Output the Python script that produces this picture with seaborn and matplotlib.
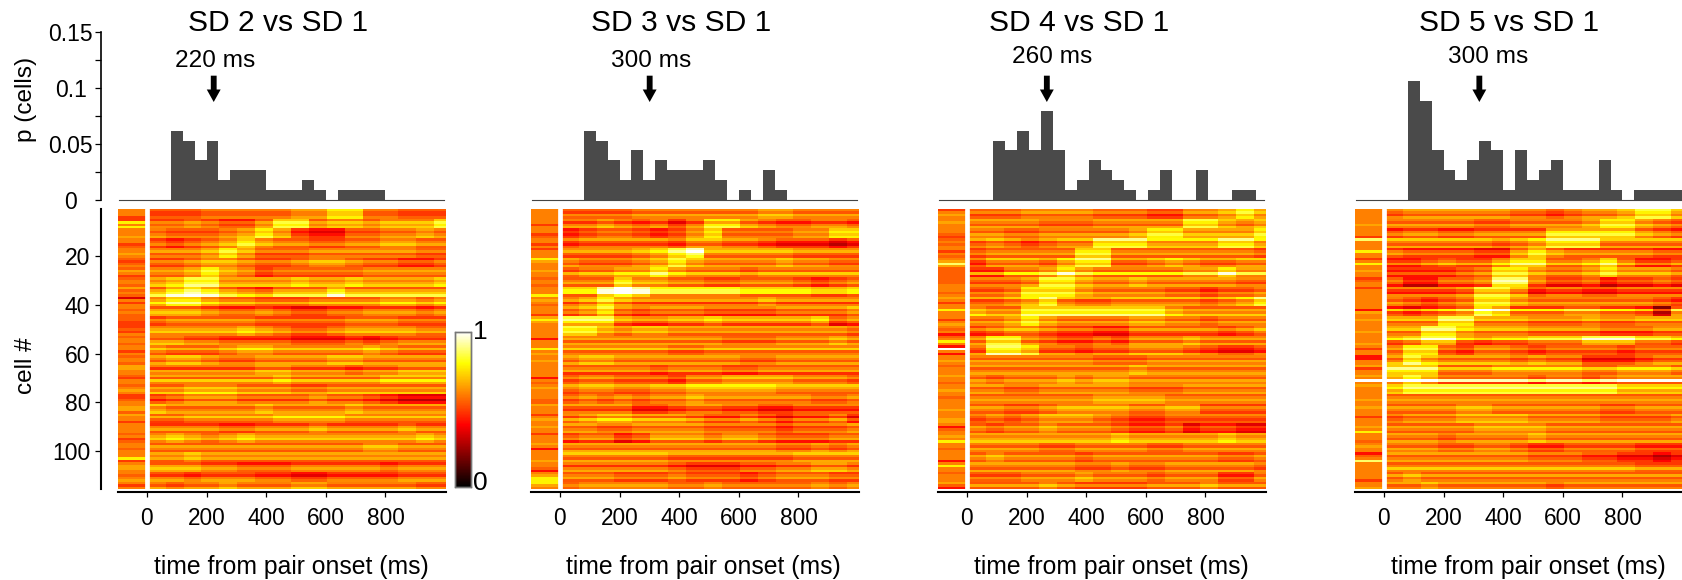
import numpy as np
import matplotlib
matplotlib.use("Agg")
import matplotlib.pyplot as plt
from matplotlib.colors import LinearSegmentedColormap
import seaborn as sns

W, H = 1682, 580

TITLES = ["SD 2 vs SD 1", "SD 3 vs SD 1", "SD 4 vs SD 1", "SD 5 vs SD 1"]
PEAK_LABELS = ["220 ms", "300 ms", "260 ms", "300 ms"]
ARROW_TIMES = [224, 301, 268, 320]
XTICKS = [0, 200, 400, 600, 800]
N_CELLS = 113

# histogram counts per 40 ms bin (bar height = count / N_CELLS)
SD2_COUNTS = [7, 6, 4, 6, 2, 3, 3, 3, 1, 1, 1, 2, 1, 0, 1, 1, 1, 1]
SD3_COUNTS = [7, 6, 4, 2, 5, 2, 4, 3, 3, 3, 4, 2, 0, 1, 0, 3, 1]
SD4_COUNTS = [6, 5, 7, 5, 9, 5, 1, 2, 4, 3, 2, 1, 0, 1, 3, 0, 0, 3, 0, 0, 1, 1]
SD5_COUNTS = [12, 10, 5, 3, 2, 4, 6, 5, 1, 5, 2, 3, 4, 1, 1, 1, 4, 1, 0, 1, 1, 1, 1]
BIN_STARTS = [80, 80, 88, 80]

# colour value of each heat level 0-10
LEVEL_VALUES = [0, 0.1, 0.34, 0.42, 0.49, 0.55, 0.6, 0.66, 0.78, 0.88, 1.0]

# heat levels: 29 blocks of 4 cells x 17 blocks of 60 ms
SD2_GRID = [
    [5, 5, 5, 6, 6, 6, 6, 6, 7, 7, 8, 8, 6, 6, 5, 5, 5],
    [5, 5, 6, 5, 4, 4, 6, 8, 8, 6, 7, 7, 6, 7, 7, 7, 8],
    [6, 5, 5, 5, 6, 7, 8, 7, 4, 3, 3, 5, 5, 6, 6, 7, 6],
    [5, 4, 5, 6, 7, 8, 7, 6, 6, 5, 5, 6, 6, 7, 7, 6, 6],
    [6, 6, 6, 7, 8, 7, 5, 5, 5, 6, 6, 6, 6, 6, 6, 5, 5],
    [5, 5, 6, 7, 7, 6, 5, 5, 6, 7, 7, 6, 5, 5, 4, 4, 5],
    [6, 6, 7, 8, 7, 6, 4, 5, 5, 5, 5, 5, 6, 6, 6, 6, 6],
    [6, 7, 8, 8, 6, 6, 6, 6, 7, 6, 6, 7, 6, 6, 6, 6, 7],
    [7, 8, 9, 8, 7, 6, 5, 7, 7, 7, 8, 7, 7, 7, 7, 7, 7],
    [7, 8, 8, 7, 6, 6, 5, 5, 5, 6, 6, 6, 6, 7, 7, 6, 7],
    [7, 7, 7, 6, 5, 5, 6, 5, 4, 4, 5, 5, 6, 6, 6, 5, 6],
    [5, 6, 6, 6, 6, 6, 5, 5, 5, 5, 5, 6, 6, 6, 5, 5, 5],
    [6, 6, 6, 6, 6, 7, 6, 5, 4, 4, 5, 6, 6, 6, 6, 5, 5],
    [7, 7, 6, 6, 5, 5, 5, 5, 4, 4, 4, 5, 4, 5, 6, 6, 6],
    [6, 5, 5, 5, 6, 7, 7, 6, 6, 6, 6, 6, 7, 6, 5, 5, 5],
    [6, 7, 7, 6, 5, 5, 6, 6, 6, 6, 7, 7, 6, 6, 6, 6, 6],
    [6, 6, 6, 6, 6, 6, 7, 7, 6, 6, 6, 5, 6, 6, 7, 7, 7],
    [6, 6, 6, 6, 6, 6, 6, 7, 6, 6, 6, 6, 6, 7, 7, 7, 7],
    [6, 6, 7, 7, 7, 6, 6, 6, 5, 5, 6, 6, 6, 6, 6, 6, 6],
    [5, 6, 7, 7, 7, 6, 6, 6, 6, 7, 6, 6, 5, 4, 3, 3, 3],
    [7, 6, 6, 6, 6, 6, 7, 6, 6, 6, 6, 7, 6, 6, 6, 6, 6],
    [5, 5, 6, 6, 6, 6, 6, 7, 7, 7, 7, 6, 6, 6, 6, 6, 6],
    [6, 6, 6, 6, 5, 5, 6, 6, 6, 7, 6, 6, 6, 6, 7, 6, 6],
    [6, 7, 6, 5, 6, 7, 6, 6, 6, 6, 6, 6, 6, 6, 6, 7, 6],
    [6, 6, 6, 6, 6, 6, 6, 6, 6, 6, 6, 6, 7, 7, 6, 6, 6],
    [6, 6, 7, 6, 6, 6, 6, 6, 6, 6, 6, 6, 6, 6, 6, 6, 6],
    [7, 7, 7, 6, 6, 5, 5, 5, 6, 6, 6, 6, 6, 5, 6, 6, 6],
    [6, 6, 5, 6, 6, 6, 5, 5, 4, 4, 5, 5, 5, 5, 6, 6, 6],
    [6, 5, 6, 6, 7, 6, 6, 6, 7, 7, 6, 6, 6, 6, 6, 5, 5],
]
SD3_GRID = [
    [5, 5, 5, 5, 6, 6, 6, 6, 6, 6, 6, 7, 7, 6, 6, 6, 6],
    [6, 6, 7, 6, 5, 6, 4, 6, 8, 8, 7, 6, 5, 5, 6, 6, 5],
    [4, 5, 6, 6, 5, 4, 5, 7, 8, 6, 6, 6, 6, 7, 7, 8, 8],
    [5, 6, 6, 6, 6, 6, 5, 7, 7, 6, 6, 5, 4, 4, 4, 3, 4],
    [5, 5, 5, 5, 6, 7, 8, 9, 6, 6, 6, 6, 6, 5, 5, 5, 5],
    [6, 5, 5, 5, 6, 7, 8, 7, 6, 6, 6, 6, 7, 6, 6, 5, 5],
    [5, 6, 6, 7, 7, 8, 7, 6, 6, 6, 5, 6, 6, 6, 6, 6, 6],
    [6, 6, 6, 8, 7, 7, 6, 6, 5, 5, 6, 6, 6, 5, 4, 5, 6],
    [6, 6, 8, 9, 8, 7, 7, 7, 7, 7, 6, 6, 6, 6, 5, 5, 6],
    [6, 7, 8, 7, 6, 6, 6, 6, 6, 6, 6, 7, 6, 6, 6, 6, 6],
    [6, 7, 8, 6, 5, 6, 6, 6, 5, 5, 5, 5, 6, 6, 6, 6, 7],
    [8, 8, 8, 6, 5, 5, 6, 6, 7, 6, 6, 6, 6, 6, 7, 4, 5],
    [8, 8, 7, 6, 7, 7, 6, 6, 6, 6, 6, 6, 6, 6, 6, 6, 5],
    [6, 6, 6, 6, 6, 6, 6, 6, 6, 5, 5, 5, 6, 6, 6, 7, 6],
    [6, 6, 6, 6, 6, 6, 5, 5, 6, 6, 6, 6, 6, 6, 6, 6, 6],
    [6, 7, 7, 6, 6, 6, 6, 6, 6, 6, 5, 5, 6, 6, 6, 6, 6],
    [6, 6, 6, 6, 6, 5, 6, 6, 6, 5, 5, 6, 6, 6, 6, 6, 6],
    [5, 6, 6, 5, 5, 5, 4, 6, 6, 7, 7, 7, 7, 6, 6, 6, 5],
    [5, 6, 6, 5, 5, 6, 6, 7, 7, 7, 7, 7, 6, 6, 6, 6, 6],
    [5, 6, 5, 6, 5, 6, 6, 7, 6, 6, 6, 6, 6, 6, 5, 5, 6],
    [6, 6, 6, 6, 4, 4, 5, 6, 6, 5, 5, 4, 4, 5, 5, 5, 5],
    [5, 6, 7, 7, 6, 6, 6, 5, 4, 4, 5, 4, 3, 4, 4, 5, 3],
    [6, 6, 5, 5, 6, 6, 6, 6, 5, 5, 5, 5, 4, 5, 5, 5, 6],
    [5, 6, 6, 4, 5, 7, 7, 7, 6, 7, 7, 6, 5, 5, 5, 6, 6],
    [6, 6, 6, 6, 6, 6, 6, 6, 6, 6, 6, 6, 5, 5, 6, 5, 6],
    [6, 6, 6, 6, 6, 6, 5, 5, 5, 5, 5, 5, 5, 6, 6, 6, 6],
    [6, 6, 6, 6, 6, 6, 5, 4, 4, 4, 5, 5, 6, 6, 7, 7, 6],
    [6, 6, 6, 5, 5, 5, 6, 5, 5, 5, 4, 5, 6, 6, 6, 5, 5],
    [5, 6, 6, 6, 6, 6, 5, 5, 6, 5, 5, 5, 5, 5, 6, 5, 6],
]
SD4_GRID = [
    [5, 5, 5, 6, 6, 6, 6, 5, 5, 5, 4, 4, 6, 6, 7, 8, 7],
    [6, 6, 6, 6, 5, 5, 5, 6, 6, 6, 6, 6, 8, 8, 7, 6, 7],
    [6, 6, 5, 5, 6, 6, 6, 6, 6, 7, 8, 8, 7, 7, 7, 7, 8],
    [5, 6, 5, 4, 5, 6, 6, 8, 8, 8, 7, 7, 7, 7, 8, 8, 7],
    [5, 6, 6, 6, 6, 6, 8, 8, 6, 6, 6, 6, 6, 6, 6, 6, 5],
    [4, 6, 6, 6, 5, 7, 8, 8, 5, 5, 6, 7, 6, 5, 5, 6, 6],
    [4, 4, 6, 6, 7, 8, 7, 6, 6, 6, 6, 6, 7, 7, 8, 7, 7],
    [5, 5, 5, 6, 8, 8, 7, 6, 6, 7, 6, 6, 6, 6, 6, 5, 5],
    [5, 5, 6, 8, 8, 8, 7, 6, 6, 6, 6, 5, 5, 4, 5, 5, 6],
    [5, 5, 6, 7, 8, 6, 5, 5, 6, 6, 6, 6, 6, 5, 6, 7, 8],
    [7, 6, 6, 8, 8, 8, 8, 8, 8, 8, 8, 7, 6, 6, 6, 6, 6],
    [6, 6, 7, 8, 7, 6, 6, 6, 6, 7, 7, 6, 6, 5, 6, 6, 6],
    [5, 6, 7, 7, 6, 5, 5, 4, 4, 6, 6, 6, 6, 6, 5, 6, 7],
    [6, 8, 8, 6, 5, 4, 4, 5, 4, 6, 6, 6, 7, 6, 6, 6, 6],
    [6, 9, 9, 8, 6, 6, 5, 6, 6, 7, 7, 7, 6, 5, 4, 4, 5],
    [6, 6, 6, 6, 6, 6, 6, 5, 5, 5, 6, 6, 6, 6, 6, 6, 6],
    [6, 6, 6, 6, 6, 6, 6, 6, 6, 7, 6, 6, 6, 6, 6, 6, 6],
    [6, 5, 6, 6, 6, 7, 6, 7, 7, 6, 6, 6, 6, 6, 6, 6, 6],
    [6, 6, 5, 5, 6, 6, 6, 6, 6, 5, 5, 5, 6, 6, 6, 6, 6],
    [6, 6, 6, 6, 6, 6, 6, 7, 7, 7, 7, 6, 6, 6, 6, 6, 6],
    [6, 6, 5, 5, 6, 7, 7, 7, 7, 6, 6, 7, 7, 5, 5, 5, 5],
    [5, 6, 5, 6, 7, 7, 7, 6, 5, 4, 4, 5, 5, 5, 5, 5, 5],
    [6, 5, 6, 6, 7, 6, 6, 6, 5, 4, 4, 5, 3, 4, 4, 3, 3],
    [6, 6, 6, 6, 6, 6, 6, 6, 7, 6, 6, 6, 6, 6, 7, 6, 6],
    [6, 6, 6, 6, 5, 5, 6, 6, 6, 6, 5, 5, 6, 6, 6, 6, 6],
    [6, 7, 6, 6, 6, 6, 5, 6, 6, 6, 6, 6, 6, 6, 5, 5, 6],
    [6, 6, 6, 6, 6, 6, 5, 5, 6, 5, 5, 6, 6, 6, 6, 6, 5],
    [5, 5, 5, 6, 6, 6, 7, 6, 6, 6, 5, 6, 6, 6, 4, 4, 6],
    [6, 6, 6, 6, 7, 6, 5, 5, 5, 5, 6, 6, 6, 7, 6, 6, 6],
]
SD5_GRID = [
    [5, 6, 6, 6, 6, 6, 6, 5, 5, 4, 5, 6, 6, 7, 8, 8, 7],
    [6, 6, 6, 6, 6, 5, 5, 6, 6, 6, 6, 7, 8, 8, 7, 6, 5],
    [5, 6, 6, 5, 5, 6, 6, 6, 6, 8, 8, 8, 8, 8, 7, 6, 5],
    [6, 6, 6, 6, 6, 6, 5, 6, 7, 8, 8, 8, 6, 6, 6, 6, 6],
    [6, 5, 5, 5, 5, 4, 4, 7, 8, 7, 6, 6, 6, 6, 6, 5, 5],
    [4, 4, 5, 6, 5, 5, 7, 8, 8, 6, 6, 7, 8, 6, 4, 4, 5],
    [4, 4, 4, 4, 5, 6, 8, 8, 7, 6, 6, 7, 8, 7, 7, 7, 6],
    [5, 3, 3, 5, 5, 6, 9, 9, 6, 4, 4, 5, 3, 4, 4, 5, 4],
    [5, 5, 5, 5, 6, 8, 8, 7, 4, 5, 5, 4, 4, 5, 5, 5, 5],
    [6, 5, 4, 5, 6, 8, 8, 7, 6, 6, 6, 6, 6, 6, 6, 5, 4],
    [5, 4, 5, 6, 7, 9, 8, 6, 6, 6, 7, 7, 6, 6, 5, 2, 7],
    [6, 6, 6, 8, 8, 6, 6, 6, 5, 5, 5, 6, 5, 5, 6, 6, 6],
    [6, 6, 8, 8, 7, 6, 6, 6, 5, 5, 5, 5, 4, 4, 4, 5, 5],
    [6, 7, 8, 8, 6, 5, 6, 6, 7, 7, 7, 8, 8, 8, 7, 7, 6],
    [6, 8, 8, 5, 4, 6, 6, 5, 4, 5, 5, 5, 5, 4, 5, 5, 5],
    [6, 8, 7, 6, 6, 6, 6, 5, 6, 5, 5, 3, 3, 3, 4, 5, 5],
    [8, 8, 8, 6, 6, 6, 7, 7, 7, 7, 7, 6, 6, 7, 7, 7, 6],
    [7, 8, 7, 5, 5, 5, 5, 5, 4, 5, 5, 4, 5, 6, 6, 6, 6],
    [7, 8, 8, 8, 8, 8, 8, 8, 8, 8, 8, 8, 8, 7, 7, 7, 7],
    [6, 6, 6, 6, 6, 6, 6, 6, 6, 6, 6, 6, 6, 6, 6, 6, 6],
    [6, 6, 6, 6, 7, 7, 6, 6, 6, 6, 6, 6, 5, 5, 6, 6, 6],
    [5, 6, 6, 6, 7, 7, 7, 7, 6, 6, 6, 6, 5, 5, 5, 5, 6],
    [6, 6, 6, 6, 6, 7, 7, 7, 7, 6, 6, 6, 6, 6, 6, 6, 6],
    [6, 6, 6, 5, 6, 6, 6, 6, 7, 6, 6, 6, 6, 6, 6, 6, 6],
    [6, 6, 6, 5, 5, 6, 6, 5, 4, 4, 5, 5, 5, 5, 4, 4, 4],
    [6, 6, 6, 6, 6, 6, 6, 6, 5, 5, 5, 4, 4, 3, 3, 2, 3],
    [6, 6, 6, 6, 6, 6, 6, 6, 6, 6, 6, 6, 6, 6, 5, 5, 5],
    [6, 7, 6, 6, 6, 6, 6, 6, 6, 6, 6, 6, 6, 6, 6, 6, 6],
    [6, 6, 7, 6, 6, 6, 6, 6, 6, 5, 6, 6, 6, 6, 6, 6, 6],
]

# pre-stimulus strip, one level per cell
SD2_PRE = [6, 6, 6, 4, 4, 8, 6, 8, 6, 6, 6, 7, 6, 6, 4, 5, 6, 6, 7, 6,
           5, 4, 5, 6, 5, 7, 6, 4, 5, 6, 6, 5, 7, 5, 6, 5, 2, 6, 4, 6,
           6, 5, 6, 5, 5, 5, 4, 4, 4, 5, 4, 6, 5, 6, 6, 5, 6, 6, 4, 6,
           5, 6, 6, 5, 7, 7, 6, 6, 5, 4, 6, 6, 5, 6, 7, 6, 4, 4, 5, 6,
           6, 7, 7, 5, 7, 6, 6, 4, 6, 6, 6, 6, 5, 6, 4, 5, 6, 6, 5, 6,
           6, 6, 8, 4, 6, 7, 7, 6, 6, 5, 6, 7, 6, 4, 6]
SD3_PRE = [6, 6, 6, 6, 6, 6, 4, 6, 6, 6, 4, 5, 6, 6, 4, 6, 4, 6, 6, 6,
           8, 7, 6, 6, 6, 7, 6, 6, 5, 6, 6, 5, 6, 6, 6, 8, 6, 7, 6, 5,
           6, 6, 6, 4, 7, 8, 7, 6, 6, 6, 6, 6, 6, 3, 6, 6, 6, 8, 6, 7,
           6, 6, 7, 6, 6, 6, 6, 6, 6, 3, 6, 5, 6, 7, 6, 6, 6, 6, 5, 5,
           7, 6, 6, 6, 4, 6, 7, 6, 6, 7, 6, 6, 4, 6, 6, 6, 7, 6, 3, 6,
           6, 6, 6, 7, 6, 6, 5, 3, 6, 7, 8, 8, 8, 7, 6]
SD4_PRE = [4, 6, 7, 6, 6, 7, 6, 6, 6, 6, 5, 4, 5, 6, 5, 6, 6, 4, 6, 5,
           6, 7, 9, 7, 5, 5, 5, 5, 5, 5, 5, 6, 6, 6, 5, 6, 7, 6, 4, 6,
           6, 8, 6, 6, 6, 4, 6, 7, 6, 5, 6, 3, 5, 6, 8, 6, 3, 10, 6, 3,
           6, 6, 7, 6, 5, 6, 6, 6, 7, 6, 6, 5, 6, 6, 7, 6, 6, 5, 6, 6,
           6, 6, 7, 6, 6, 6, 7, 7, 6, 3, 5, 6, 6, 7, 6, 8, 6, 6, 5, 6,
           6, 6, 6, 3, 6, 8, 6, 6, 5, 6, 6, 6, 7, 5, 3]
SD5_PRE = [6, 6, 6, 6, 6, 6, 7, 6, 6, 6, 6, 4, 9, 6, 6, 6, 6, 8, 6, 6,
           4, 6, 8, 6, 6, 7, 6, 6, 4, 5, 6, 6, 4, 6, 6, 6, 6, 6, 6, 6,
           6, 3, 7, 6, 6, 7, 6, 6, 6, 6, 7, 6, 6, 6, 6, 7, 6, 4, 6, 6,
           3, 3, 6, 6, 7, 4, 6, 6, 7, 6, 10, 6, 7, 6, 6, 6, 6, 6, 7, 6,
           6, 7, 6, 6, 6, 4, 6, 6, 6, 7, 6, 8, 6, 6, 6, 5, 6, 7, 6, 6,
           3, 5, 6, 9, 6, 6, 6, 6, 6, 6, 6, 4, 6, 6, 7]

# bright / dark row streaks after onset, one value per cell
SD2_STREAK = [0, -1, -1, 0, -1, 1, 0, 1, 0, -1, 0, 1, -1, 0, 1, -1, 0, 1, -1, 0,
              -1, 1, 0, -1, 0, 1, 0, -1, 1, 0, 1, 2, -2, 0, 1, 3, -1, 0, 2, 0,
              -2, 0, 1, 0, -1, 1, 0, -1, 0, 1, 2, 0, -1, -2, 0, 1, 0, 2, 0, -1,
              1, 0, -1, 1, 0, -2, 1, 0, 1, -1, 2, 0, -1, 1, 0, 2, -1, 0, -2, 0,
              1, -1, 0, 1, 0, 2, 0, -1, -2, 0, 1, -1, 0, 1, 2, 0, -1, 1, 0, -1,
              1, 0, 1, -1, -2, 0, 1, 0, -1, -2, 0, 1, 0, -1, 1]
SD3_STREAK = [0, -1, 1, 0, 0, -2, 0, 1, -1, 0, -1, 0, 1, -1, -2, 0, 1, 2, 0, -1,
              1, 0, -1, 1, 0, -1, 2, 0, -1, 0, 1, -1, 2, 3, 3, -1, 0, 1, -2, 0,
              1, -1, 0, -2, 1, 2, 0, -2, 1, 0, 1, -1, 0, 1, -1, 1, 0, 2, -1, 0,
              1, 0, -1, 1, -1, 0, 1, -2, 0, 1, -1, 0, 2, 1, 0, -1, 0, 1, -1, 0,
              1, -1, -2, 0, 1, -1, 2, 0, 1, -1, 0, 1, -1, 0, 1, -2, 1, 0, -1, 1,
              2, 0, -1, 1, 0, -2, 0, 1, -1, 0, 1, -1, 0, 1, 0]
SD4_STREAK = [0, 1, -1, 0, 1, 0, -1, 1, 0, -1, 1, 0, 2, -1, 0, 1, -1, 0, 1, -1,
              2, 0, -1, 1, 0, -1, 3, -1, 1, 0, -1, 1, 0, -1, 1, 0, 2, -1, 0, 1,
              -1, 1, 0, 2, 0, -1, 1, 0, -1, 1, -1, -2, 0, 1, -1, 1, 0, -1, -2, 1,
              0, -1, 1, 0, 1, -1, 0, 1, 0, -1, 1, 0, 1, -1, 0, 1, -1, 0, 1, 0,
              -1, 1, 0, -1, 1, 0, -1, 0, -1, 1, 0, -1, 1, 0, 1, 2, 0, -1, 1, 0,
              -1, 1, 0, -1, 1, 0, -1, 1, 0, -1, 1, 0, -1, 1, -1]
SD5_STREAK = [1, 0, -1, 1, 0, -1, 1, 0, -2, 0, 1, -1, 2, 0, -1, 1, -2, 0, 1, -1,
              -1, 0, 2, -1, 0, -1, 1, -1, 0, 1, 0, -2, 1, -1, -2, 1, 0, -1, 1, 0,
              -2, 3, -1, 0, 1, 2, -1, 0, 1, 2, -1, 0, 1, 3, -1, -2, 0, 1, -1, 0,
              1, -1, 0, 2, -1, 2, 0, -1, 1, 0, 6, -1, 1, 2, 0, 1, -1, 0, 1, 0,
              -1, 1, 0, -1, 1, -1, 0, 1, -1, 1, 0, -1, 1, 0, -1, 1, 0, -1, 1, 0,
              1, -1, 0, 1, -1, 0, 2, 0, -1, 1, -1, 0, 1, -1, 0]

COUNTS = [SD2_COUNTS, SD3_COUNTS, SD4_COUNTS, SD5_COUNTS]
GRIDS = [SD2_GRID, SD3_GRID, SD4_GRID, SD5_GRID]
PRES = [SD2_PRE, SD3_PRE, SD4_PRE, SD5_PRE]
STREAKS = [SD2_STREAK, SD3_STREAK, SD4_STREAK, SD5_STREAK]

sns.set_theme(style="white")
plt.rcParams["font.family"] = ["Liberation Sans", "DejaVu Sans"]
plt.rcParams["text.color"] = "black"
plt.rcParams["axes.labelcolor"] = "black"
plt.rcParams["xtick.color"] = "black"
plt.rcParams["ytick.color"] = "black"

heat = LinearSegmentedColormap.from_list(
    "heat", [(0, "#000000"), (0.4, "#ff0000"), (0.8, "#ffff00"), (1, "#ffffff")])

T0, T1 = -97, 1003
COL_MS = 20


def px_axes(x0, y0, x1, y1):
    return fig.add_axes([x0 / W, 1 - y1 / H, (x1 - x0) / W, (y1 - y0) / H])


def to_col(t):
    return (np.asarray(t) - T0) / COL_MS


def build_matrix(grid, pre, streak):
    values = np.array(LEVEL_VALUES)
    post = np.repeat(np.repeat(values[np.array(grid)], 4, axis=0)[:115], [3] * 16 + [2], axis=1)
    post = post + np.array(streak)[:, None] * 0.065
    strip = np.repeat(values[np.array(pre)][:, None], 5, axis=1)
    return np.clip(np.hstack([strip, post]), 0, 1)


fig = plt.figure(figsize=(W / 100, H / 100), dpi=100)

HEAT_X = [118, 531, 938, 1355]
TITLE_X = [278, 681, 1079, 1509]
PEAK_X = [215, 651, 1052, 1488]
PEAK_Y = [61, 61, 57, 57]
XLABEL_X = [291, 703, 1111, 1528]

cax = px_axes(455, 332, 470.7, 486.7)

for i in range(4):
    x0 = HEAT_X[i]

    # histogram
    ax = px_axes(x0, 32, x0 + 328, 200)
    lefts = BIN_STARTS[i] + 40 * np.arange(len(COUNTS[i]))
    sns.barplot(x=lefts + 20, y=np.array(COUNTS[i]) / N_CELLS, native_scale=True, width=1,
                color="#4a4a4a", saturation=1, linewidth=0, ax=ax)
    ax.set_xlim(T0, T0 + 1100)
    ax.set_ylim(0, 0.15)
    ax.set_xlabel("")
    ax.set_ylabel("")
    ax.set_xticks([])
    sns.despine(ax=ax, left=i > 0)
    ax.spines["bottom"].set_color("#444444")
    ax.spines["bottom"].set_linewidth(0.8)
    ax.spines["bottom"].set_bounds(T0 + 4, T0 + 1092)
    if i == 0:
        ax.spines["left"].set_position(("outward", 17.5 * 0.72))
        ax.spines["left"].set_linewidth(1.2)
        ax.spines["left"].set_color("black")
        ax.set_yticks([0, 0.05, 0.1, 0.15])
        ax.set_yticks([0.025, 0.075, 0.125], minor=True)
        ax.set_yticklabels(["0", "0.05", "0.1", "0.15"], fontsize=16.5, ha="center")
        ax.tick_params(axis="y", which="both", left=True, length=4.3, width=0.9, pad=17)
    else:
        ax.set_yticks([])
    ax.annotate("", xy=(ARROW_TIMES[i], 0.0875), xytext=(ARROW_TIMES[i], 0.111),
                arrowprops=dict(facecolor="black", edgecolor="none", width=4.2,
                                headwidth=10, headlength=9, shrink=0))
    fig.text(TITLE_X[i] / W, 1 - 23 / H, TITLES[i], fontsize=21.6, ha="center", va="center")
    fig.text(PEAK_X[i] / W, 1 - PEAK_Y[i] / H, PEAK_LABELS[i], fontsize=17.6, ha="center", va="center")

    # heat map
    ax2 = px_axes(x0, 209, x0 + 328, 489)
    sns.heatmap(build_matrix(GRIDS[i], PRES[i], STREAKS[i]), vmin=0, vmax=1, cmap=heat,
                cbar=i == 0, cbar_ax=cax if i == 0 else None, ax=ax2,
                xticklabels=False, yticklabels=False, rasterized=True)
    ax2.axvline(to_col(1), color="white", lw=3.4)
    sns.despine(ax=ax2, left=True)
    ax2.spines["bottom"].set_visible(True)
    ax2.spines["bottom"].set_position(("outward", 2.5))
    ax2.spines["bottom"].set_linewidth(1.5)
    ax2.spines["bottom"].set_color("black")
    ax2.set_xticks(to_col(XTICKS))
    ax2.set_xticklabels(XTICKS, fontsize=16.3, rotation=0)
    ax2.tick_params(axis="x", bottom=True, length=3.6, width=0.9, pad=7)
    if i == 0:
        ax2.spines["left"].set_visible(True)
        ax2.spines["left"].set_position(("outward", 17.5 * 0.72))
        ax2.spines["left"].set_linewidth(1.5)
        ax2.spines["left"].set_color("black")
        ax2.set_yticks([19.4, 39.4, 59.4, 79.4, 99.4])
        ax2.set_yticklabels(["20", "40", "60", "80", "100"], fontsize=16.5, rotation=0)
        ax2.tick_params(axis="y", left=True, length=4.3, width=0.9, pad=3)
    fig.text(XLABEL_X[i] / W, 1 - 567 / H, "time from pair onset (ms)", fontsize=17.8,
             ha="center", va="center")

fig.text(26 / W, 1 - 99 / H, "p (cells)", fontsize=17.6, rotation=90, ha="center", va="center")
fig.text(26 / W, 1 - 366 / H, "cell #", fontsize=17.6, rotation=90, ha="center", va="center")

# colour bar
cax.set_yticks([0.2, 0.4, 0.6, 0.8])
cax.set_yticklabels([])
cax.tick_params(axis="y", right=True, left=False, direction="in", length=2.5, width=0.7, color="#444444")
for s in cax.spines.values():
    s.set_visible(True)
    s.set_edgecolor("#777777")
    s.set_linewidth(1.0)
cax.text(1.63, 1.0, "1", transform=cax.transAxes, fontsize=19, ha="center", va="center")
cax.text(1.6, 0.025, "0", transform=cax.transAxes, fontsize=19, ha="center", va="center")

fig.savefig("out.png", dpi=100)
